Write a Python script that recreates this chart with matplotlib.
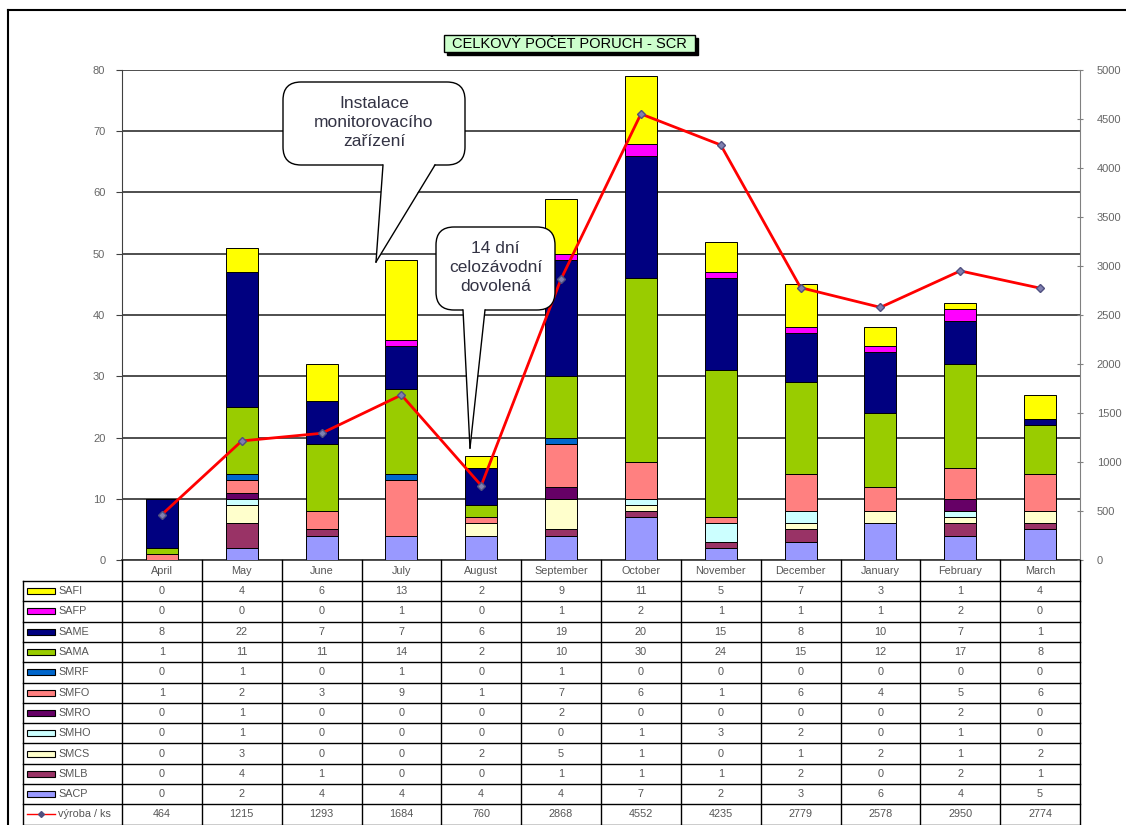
import matplotlib
matplotlib.use("Agg")
import matplotlib.pyplot as plt
import numpy as np
from matplotlib.patches import Rectangle, FancyBboxPatch, Polygon
from matplotlib.lines import Line2D

plt.rcParams['font.family'] = ['Liberation Sans', 'DejaVu Sans']

# data
months = ['April', 'May', 'June', 'July', 'August', 'September', 'October',
          'November', 'December', 'January', 'February', 'March']
SAFI = [0, 4, 6, 13, 2, 9, 11, 5, 7, 3, 1, 4]
SAFP = [0, 0, 0, 1, 0, 1, 2, 1, 1, 1, 2, 0]
SAME = [8, 22, 7, 7, 6, 19, 20, 15, 8, 10, 7, 1]
SAMA = [1, 11, 11, 14, 2, 10, 30, 24, 15, 12, 17, 8]
SMRF = [0, 1, 0, 1, 0, 1, 0, 0, 0, 0, 0, 0]
SMFO = [1, 2, 3, 9, 1, 7, 6, 1, 6, 4, 5, 6]
SMRO = [0, 1, 0, 0, 0, 2, 0, 0, 0, 0, 2, 0]
SMHO = [0, 1, 0, 0, 0, 0, 1, 3, 2, 0, 1, 0]
SMCS = [0, 3, 0, 0, 2, 5, 1, 0, 1, 2, 1, 2]
SMLB = [0, 4, 1, 0, 0, 1, 1, 1, 2, 0, 2, 1]
SACP = [0, 2, 4, 4, 4, 4, 7, 2, 3, 6, 4, 5]
vyroba = [464, 1215, 1293, 1684, 760, 2868, 4552, 4235, 2779, 2578, 2950, 2774]

# stacking order bottom -> top
series = [('SACP', SACP, '#9999FF'), ('SMLB', SMLB, '#993366'),
          ('SMCS', SMCS, '#FFFFCC'), ('SMHO', SMHO, '#CCFFFF'),
          ('SMRO', SMRO, '#660066'), ('SMFO', SMFO, '#FF8080'),
          ('SMRF', SMRF, '#0066CC'), ('SAMA', SAMA, '#99CC00'),
          ('SAME', SAME, '#000080'), ('SAFP', SAFP, '#FF00FF'),
          ('SAFI', SAFI, '#FFFF00')]

W, H = 1126, 825
fig = plt.figure(figsize=(W / 100, H / 100), dpi=100)
fig.patch.set_facecolor('white')


def fx(px):
    return px / W


def fy(py):
    return 1 - py / H


L, R, T, B = 122, 1080, 70, 560
ax = fig.add_axes([fx(L), fy(B), fx(R) - fx(L), fy(T) - fy(B)])
x = np.arange(len(months))
bottom = np.zeros(len(months))
for name, vals, col in series:
    ax.bar(x, vals, 0.4, bottom=bottom, color=col, edgecolor='black',
           linewidth=0.7, zorder=3)
    bottom += np.array(vals)

ax.set_xlim(-0.5, 11.5)
ax.set_ylim(0, 80)
ax.set_yticks(range(0, 81, 10))
ax.yaxis.grid(True, color='#404040', linewidth=1.3, zorder=0)
ax.set_axisbelow(True)
ax.set_xticks([])
ax.tick_params(axis='y', labelsize=8, labelcolor='#666666', length=4,
               color='#404040', pad=8)
for s in ['top', 'right']:
    ax.spines[s].set_visible(False)
ax.spines['left'].set_color('#404040')
ax.spines['bottom'].set_color('#404040')
ax.spines['bottom'].set_linewidth(1.3)

ax2 = ax.twinx()
ax2.set_ylim(0, 5000)
ax2.set_yticks(range(0, 5001, 500))
ax2.plot(x, vyroba, color='#FF0000', linewidth=2, marker='D', markersize=4.5,
         markerfacecolor='#8080B0', markeredgecolor='#505080', zorder=5)
ax2.tick_params(axis='y', labelsize=8, labelcolor='#666666', length=4,
                direction='inout', color='#808080', pad=10)
for s in ['top', 'left', 'bottom']:
    ax2.spines[s].set_visible(False)
ax2.spines['right'].set_color('#808080')

# outer frame (extends beyond the canvas)
fig.add_artist(Line2D([fx(8), fx(8)], [fy(10), fy(830)], color='black', lw=1.5))
fig.add_artist(Line2D([fx(8), fx(1130)], [fy(10), fy(10)], color='black', lw=1.5))

# title box with shadow
fig.add_artist(Rectangle((fx(447), fy(55)), fx(695) - fx(444), fy(35) - fy(52),
                         facecolor='black', edgecolor='black', lw=1))
fig.add_artist(Rectangle((fx(444), fy(52)), fx(695) - fx(444), fy(35) - fy(52),
                         facecolor='#CCFFCC', edgecolor='black', lw=1))
fig.text(fx(569.5), fy(44), 'CELKOVÝ POČET PORUCH - SCR', ha='center',
         va='center', fontsize=10.5, color='black')


# callouts
def callout(x0, x1, y0, y1, b0, b1, tip, text):
    fig.add_artist(FancyBboxPatch((fx(x0), fy(y1)), fx(x1) - fx(x0), fy(y0) - fy(y1),
                                  boxstyle='round,pad=0,rounding_size=0.016',
                                  facecolor='white', edgecolor='black', lw=1,
                                  mutation_aspect=W / H, zorder=10))
    fig.add_artist(Polygon([(fx(b0), fy(y1 - 1.5)), (fx(b1), fy(y1 - 1.5)),
                            (fx(tip[0]), fy(tip[1]))], closed=True,
                           facecolor='white', edgecolor='none', zorder=11))
    for bx in (b0, b1):
        fig.add_artist(Line2D([fx(bx), fx(tip[0])], [fy(y1), fy(tip[1])],
                              color='black', lw=1, zorder=12))
    fig.text(fx((x0 + x1) / 2), fy((y0 + y1) / 2 - 1), text, ha='center',
             va='center', fontsize=12.5, color='#333344', linespacing=1.3,
             zorder=13)


callout(283, 465, 82, 165, 383, 435, (376, 262),
        'Instalace\nmonitorovacího\nzařízení')
callout(436, 555, 227, 310, 463, 485, (470, 448),
        '14 dní\ncelozávodní\ndovolená')

# data table
col_w = (R - L) / 12.0
hdr_bot = 581
row_h = 20.3
names = ['SAFI', 'SAFP', 'SAME', 'SAMA', 'SMRF', 'SMFO', 'SMRO', 'SMHO',
         'SMCS', 'SMLB', 'SACP']
colors = dict((n, c) for n, v, c in series)
values = dict((n, v) for n, v, c in series)
tab_l = 23
tc = '#555555'

for i, m in enumerate(months):
    fig.text(fx(L + (i + 0.5) * col_w), fy((B + hdr_bot) / 2), m, ha='center',
             va='center', fontsize=7.8, color=tc)
for i in range(13):
    xe = L + i * col_w
    fig.add_artist(Line2D([fx(xe), fx(xe)], [fy(B), fy(830)], color='black', lw=1))
fig.add_artist(Line2D([fx(tab_l), fx(tab_l)], [fy(hdr_bot), fy(830)], color='black', lw=1))
fig.add_artist(Line2D([fx(tab_l), fx(R)], [fy(hdr_bot), fy(hdr_bot)], color='black', lw=1))

rows = names + ['výroba / ks']
for r, n in enumerate(rows):
    top = hdr_bot + r * row_h
    yc = top + row_h / 2
    fig.add_artist(Line2D([fx(tab_l), fx(R)], [fy(top + row_h), fy(top + row_h)],
                          color='black', lw=1))
    if n in colors:
        fig.add_artist(Rectangle((fx(27), fy(yc + 3)), fx(55) - fx(27), fy(yc - 3) - fy(yc + 3),
                                 facecolor=colors[n], edgecolor='black', lw=0.8))
        vals = values[n]
    else:
        fig.add_artist(Line2D([fx(27), fx(55)], [fy(yc), fy(yc)], color='#FF0000', lw=1))
        fig.add_artist(Line2D([fx(41)], [fy(yc)], marker='D', markersize=3,
                              color='#505080'))
        vals = vyroba
    fig.text(fx(58), fy(yc), n, ha='left', va='center', fontsize=7.8, color=tc)
    for i, v in enumerate(vals):
        fig.text(fx(L + (i + 0.5) * col_w), fy(yc), str(v), ha='center',
                 va='center', fontsize=7.8, color=tc)

fig.savefig('out.png', dpi=100, facecolor='white')
